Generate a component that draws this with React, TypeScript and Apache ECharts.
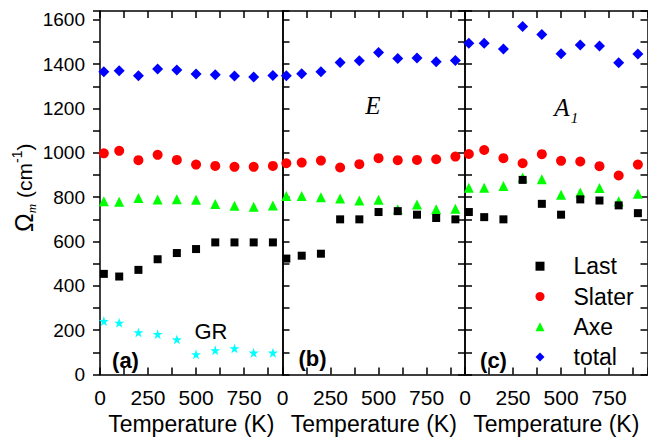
import React, { useEffect, useRef } from "react";
import * as echarts from "echarts";

// Temperatures (K)
const T = [20, 100, 200, 300, 400, 500, 600, 700, 800, 900];

// Panel (a) GR
const lastA = [454, 442, 472, 520, 548, 566, 596, 596, 596, 596];
const slaterA = [998, 1009, 967, 991, 968, 947, 941, 937, 937, 941];
const axeA = [782, 779, 796, 790, 791, 788, 769, 761, 757, 763];
const totalA = [1366, 1370, 1348, 1378, 1374, 1356, 1352, 1347, 1342, 1349];
const grA = [241, 233, 190, 182, 158, 91, 109, 118, 98, 98];

// Panel (b) E
const lastB = [523, 536, 545, 700, 700, 733, 737, 721, 706, 700];
const slaterB = [953, 956, 965, 934, 949, 976, 967, 968, 971, 983];
const axeB = [805, 805, 800, 794, 785, 788, 745, 767, 745, 748];
const totalB = [1348, 1357, 1366, 1408, 1415, 1453, 1426, 1428, 1411, 1417];

// Panel (c) A1
const lastC = [733, 710, 700, 878, 770, 721, 790, 785, 763, 728];
const slaterC = [995, 1013, 976, 953, 994, 964, 961, 940, 898, 947];
const axeC = [843, 843, 850, 889, 881, 811, 821, 841, 782, 815];
const totalC = [1495, 1495, 1468, 1570, 1534, 1447, 1487, 1482, 1406, 1446];

const xTickLabels = [0, 250, 500, 750];
const yTickLabels = [0, 200, 400, 600, 800, 1000, 1200, 1400, 1600];
const legendNames = ["Last", "Slater", "Axe", "total"];
const panelLabels = ["(a)", "(b)", "(c)"];

const FONT = "'Liberation Sans', Arial, sans-serif";
const SERIF = "'Liberation Serif', 'Times New Roman', serif";
const STAR =
  "path://M50,0 L61.2,34.5 L97.6,34.5 L68.2,55.9 L79.4,90.5 L50,69.1 L20.6,90.5 L31.8,55.9 L2.4,34.5 L38.8,34.5 Z";

export default function App() {
  const ref = useRef<HTMLDivElement>(null);

  useEffect(() => {
    document.body.style.margin = "0";
    const chart = echarts.init(ref.current as HTMLDivElement, null, { renderer: "svg" });

    const panels = [
      { last: lastA, slater: slaterA, axe: axeA, total: totalA },
      { last: lastB, slater: slaterB, axe: axeB, total: totalB },
      { last: lastC, slater: slaterC, axe: axeC, total: totalC },
    ];

    const lineStyle = { color: "#000", width: 1.5 };
    const grids: any[] = [];
    const xAxes: any[] = [];
    const yAxes: any[] = [];
    const series: any[] = [];

    const mk = (name: string, vals: number[], symbol: string, size: number, color: string, i: number) => ({
      type: "scatter",
      name,
      xAxisIndex: 2 * i,
      yAxisIndex: 2 * i,
      data: T.map((t, k) => [t, vals[k]]),
      symbol,
      symbolSize: size,
      itemStyle: { color, opacity: 1 },
      emphasis: { disabled: true },
      silent: true,
    });

    panels.forEach((p, i) => {
      grids.push({
        left: 100 + i * 182.5,
        top: 11,
        width: 182.5,
        height: 363.5,
        containLabel: false,
        outerBoundsMode: "none",
      });
      xAxes.push({
        type: "value",
        gridIndex: i,
        position: "bottom",
        min: 0,
        max: 950,
        interval: 125,
        axisLine: { show: true, onZero: false, lineStyle },
        axisTick: { show: true, inside: true, length: 7, lineStyle },
        axisLabel: {
          show: true,
          margin: 12,
          fontSize: 21,
          color: "#000",
          fontFamily: FONT,
          formatter: (v: number) => (xTickLabels.includes(v) ? String(v) : ""),
        },
        splitLine: { show: false },
        name: "Temperature (K)",
        nameLocation: "middle",
        nameGap: 38,
        nameMoveOverlap: false,
        nameTextStyle: { fontSize: 23, color: "#000", fontFamily: FONT },
      });
      xAxes.push({
        type: "value",
        gridIndex: i,
        position: "top",
        min: 0,
        max: 950,
        interval: 125,
        axisLine: { show: true, onZero: false, lineStyle },
        axisTick: { show: true, inside: true, length: 7, lineStyle },
        axisLabel: { show: false },
        splitLine: { show: false },
      });
      yAxes.push({
        type: "value",
        gridIndex: i,
        position: "left",
        min: 0,
        max: 1640,
        interval: 100,
        axisLine: { show: true, onZero: false, lineStyle },
        axisTick: { show: true, inside: i > 0, length: 7, lineStyle },
        axisLabel: {
          show: i === 0,
          margin: 15,
          fontSize: 19,
          color: "#000",
          fontFamily: FONT,
          formatter: (v: number) => (yTickLabels.includes(v) ? String(v) : ""),
        },
        splitLine: { show: false },
        ...(i === 0
          ? {
              name: "{o|Ω}{m|m}{t| (cm}{s|-1}{t|)}",
              nameLocation: "middle",
              nameGap: 62,
              nameRotate: 90,
              nameMoveOverlap: false,
              nameTextStyle: {
                color: "#000",
                fontFamily: FONT,
                padding: [0, 0, 0, 10],
                rich: {
                  o: { fontSize: 25, lineHeight: 28, fontFamily: FONT, color: "#000", verticalAlign: "middle" },
                  m: { fontSize: 13, lineHeight: 13, fontStyle: "italic", fontFamily: SERIF, color: "#000", verticalAlign: "bottom" },
                  t: { fontSize: 21, lineHeight: 28, fontFamily: FONT, color: "#000", verticalAlign: "middle" },
                  s: { fontSize: 14, lineHeight: 14, fontFamily: FONT, color: "#000", verticalAlign: "top" },
                },
              },
            }
          : {}),
      });
      yAxes.push({
        type: "value",
        gridIndex: i,
        position: "right",
        min: 0,
        max: 1640,
        interval: 100,
        axisLine: { show: true, onZero: false, lineStyle },
        axisTick: { show: i > 0, inside: true, length: 7, lineStyle },
        axisLabel: { show: false },
        splitLine: { show: false },
      });

      series.push(mk("Axe", p.axe, "triangle", 10, "#00ff00", i));
      series.push(mk("Slater", p.slater, "circle", 10, "#ff0000", i));
      series.push(mk("total", p.total, "diamond", 11, "#0000ff", i));
      series.push(mk("Last", p.last, "rect", 8, "#000000", i));
      if (i === 0) series.push(mk("GR", grA, STAR, 10, "#00ffff", i));
    });

    const txt = (text: string, x: number, y: number, extra: any = {}) => ({
      type: "text",
      x,
      y,
      silent: true,
      style: {
        text,
        fill: "#000",
        fontFamily: FONT,
        fontSize: 22,
        align: "center",
        verticalAlign: "middle",
        ...extra,
      },
    });

    chart.setOption({
      animation: false,
      backgroundColor: "#fff",
      grid: grids,
      xAxis: xAxes,
      yAxis: yAxes,
      series,
      legend: {
        data: legendNames,
        orient: "vertical",
        left: 535.5,
        top: 254.7,
        padding: 0,
        itemWidth: 9,
        itemHeight: 9,
        itemGap: 7.3,
        selectedMode: false,
        textStyle: {
          fontSize: 23,
          lineHeight: 22,
          fontFamily: FONT,
          color: "#000",
          padding: [0, 0, 0, 24],
        },
      },
      graphic: [
        txt("GR", 211, 331),
        txt(panelLabels[0], 125.5, 360, { fontWeight: "bold" }),
        txt(panelLabels[1], 312.5, 358, { fontWeight: "bold" }),
        txt(panelLabels[2], 493.5, 360, { fontWeight: "bold" }),
        txt("E", 373, 105, { fontFamily: SERIF, fontStyle: "italic", fontSize: 25 }),
        txt("A", 562, 107, { fontFamily: SERIF, fontStyle: "italic", fontSize: 25 }),
        txt("1", 574.5, 118, { fontFamily: SERIF, fontStyle: "italic", fontSize: 15 }),
      ],
    });

    return () => chart.dispose();
  }, []);

  return <div ref={ref} style={{ width: 648, height: 440 }} />;
}
